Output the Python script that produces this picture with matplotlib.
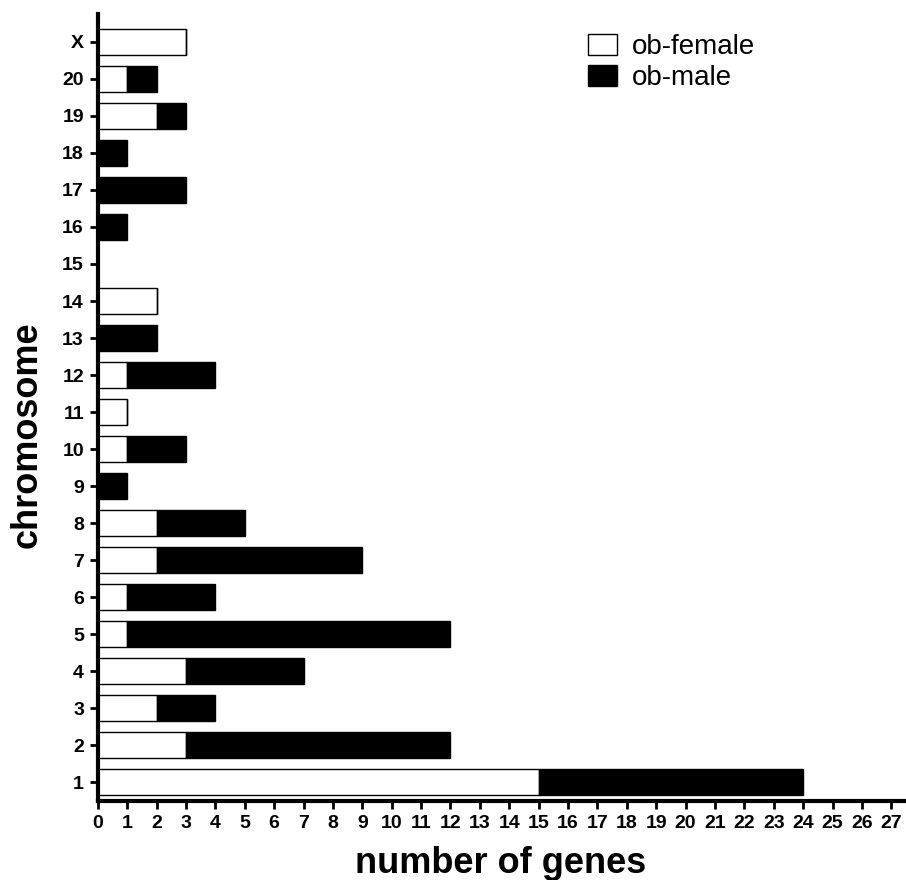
import matplotlib
matplotlib.use("Agg")
import matplotlib.pyplot as plt
from matplotlib.patches import Patch

chromosomes = ["1", "2", "3", "4", "5", "6", "7", "8", "9", "10", "11", "12",
               "13", "14", "15", "16", "17", "18", "19", "20", "X"]
female = [15, 3, 2, 3, 1, 1, 2, 2, 0, 1, 1, 1, 0, 2, 0, 0, 0, 0, 2, 1, 3]
male = [9, 9, 2, 4, 11, 3, 7, 3, 1, 2, 0, 3, 2, 0, 0, 1, 3, 1, 1, 1, 0]
xticks = list(range(0, 28))

FONT = "Liberation Sans"

fig = plt.figure(figsize=(9.06, 8.8), dpi=100)
ax = fig.add_axes([0.108, 0.09, 0.892, 0.894])

pos = list(range(1, len(chromosomes) + 1))
ax.barh(pos, female, height=0.7, color="white", edgecolor="black", linewidth=1.0, label="ob-female")
ax.barh(pos, male, left=female, height=0.7, color="black", edgecolor="black", linewidth=1.0, label="ob-male")

ax.set_xlim(0, 27.5)
ax.set_ylim(0.5, 21.75)
ax.set_xticks(xticks)
ax.set_xticklabels([str(t) for t in xticks], fontfamily=FONT, fontweight="bold", fontsize=14)
ax.set_yticks(pos)
ax.set_yticklabels(chromosomes, fontfamily=FONT, fontweight="bold", fontsize=14)

for s in ["top", "right"]:
    ax.spines[s].set_visible(False)
for s in ["left", "bottom"]:
    ax.spines[s].set_linewidth(3)
ax.tick_params(axis="both", direction="out", length=6, width=2, pad=4)

fig.text(501 / 906, 1 - 873 / 880, "number of genes", ha="center", va="baseline",
         fontfamily=FONT, fontweight="bold", fontsize=26)
fig.text(27 / 906, 1 - 435 / 880, "chromosome", ha="center", va="center", rotation=90,
         fontfamily=FONT, fontweight="bold", fontsize=26)

handles = [Patch(facecolor="white", edgecolor="black", linewidth=1.0, label="ob-female"),
           Patch(facecolor="black", edgecolor="black", linewidth=1.0, label="ob-male")]
ax.legend(handles=handles, loc="upper left", bbox_to_anchor=(0.606, 0.975), frameon=False,
          prop={"family": FONT, "size": 20}, handlelength=1.05, handleheight=0.8,
          handletextpad=0.55, labelspacing=0.18, borderpad=0, borderaxespad=0)

fig.savefig("out.png", dpi=100)
